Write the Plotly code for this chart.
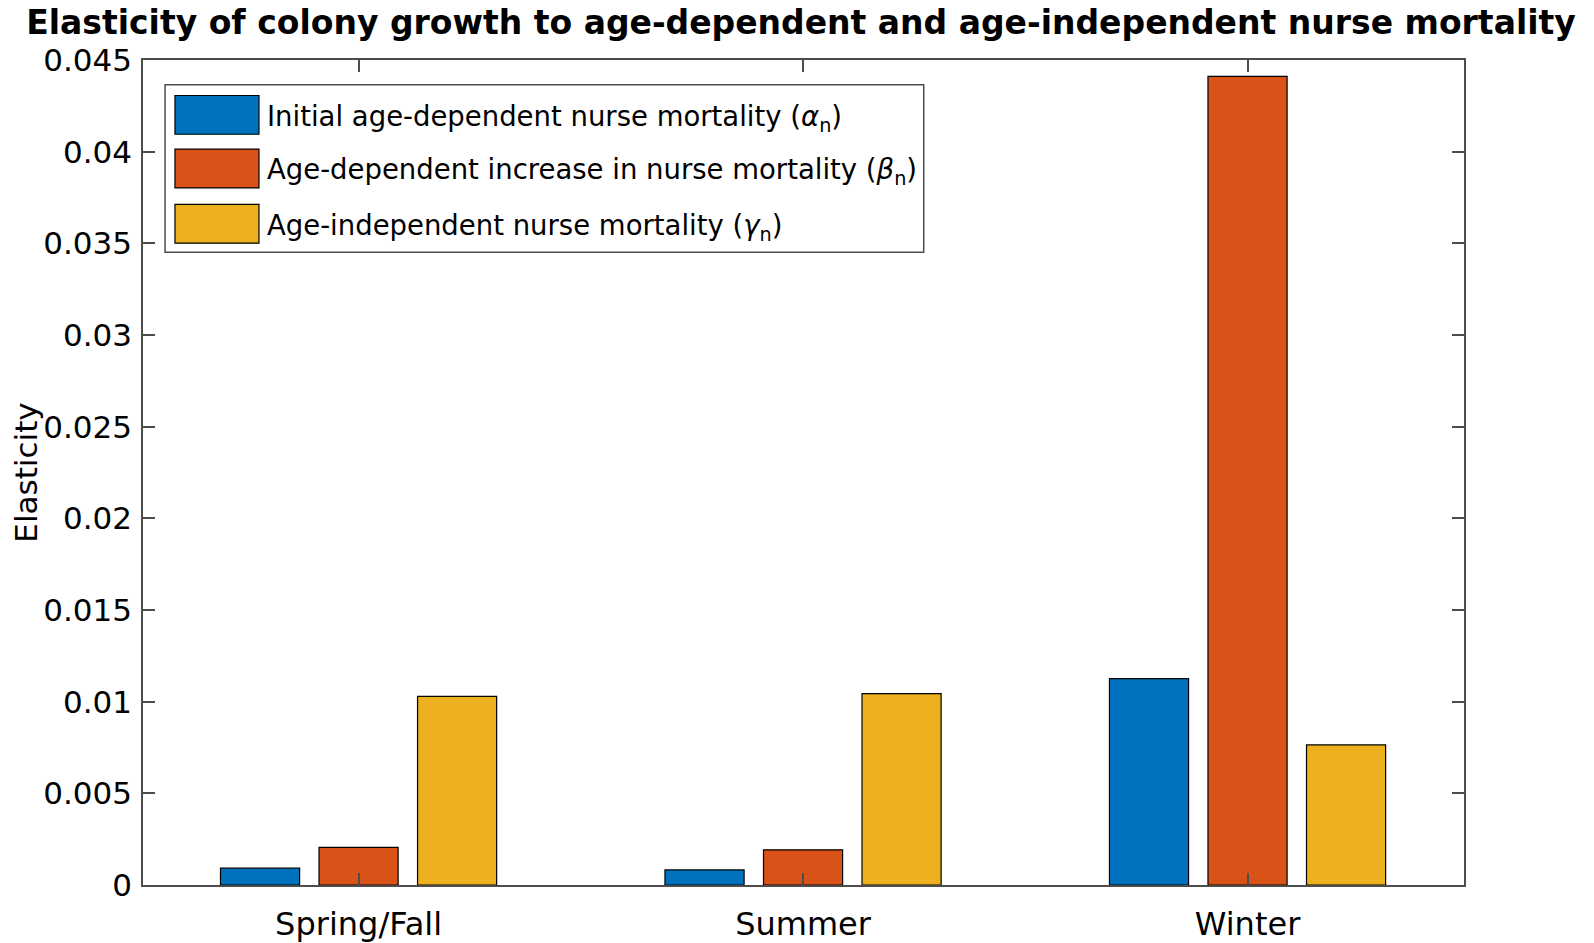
import plotly.graph_objects as go

categories = ["Spring/Fall", "Summer", "Winter"]
series_names = [
    "Initial age-dependent nurse mortality (<i>α</i><sub>n</sub>)",
    "Age-dependent increase in nurse mortality (<i>β</i><sub>n</sub>)",
    "Age-independent nurse mortality (<i>γ</i><sub>n</sub>)",
]
alpha_n = [0.00092, 0.00082, 0.01126]
beta_n = [0.00205, 0.00192, 0.04411]
gamma_n = [0.01029, 0.01044, 0.00764]
colors = ["#0072BD", "#D95319", "#EDB120"]
y_ticks = [0, 0.005, 0.01, 0.015, 0.02, 0.025, 0.03, 0.035, 0.04, 0.045]

FONT = "DejaVu Sans, Liberation Sans, Arial, sans-serif"
# page body has an 8px margin; compensate so the plot lands where the reference has it
W, H = 1586, 935
fig = go.Figure()
for name, vals, col in zip(series_names, [alpha_n, beta_n, gamma_n], colors):
    fig.add_trace(go.Bar(x=categories, y=vals, name=name,
                         marker=dict(color=col, line=dict(color="black", width=1.2)),
                         showlegend=False))

axcol = "#4d4d4d"
fig.update_layout(
    width=W, height=H,
    margin=dict(l=135, r=130, t=52, b=58),
    paper_bgcolor="white", plot_bgcolor="white",
    barmode="group", bargap=0.335, bargroupgap=0.197,
    font=dict(family=FONT, color="black", size=30),
    title=dict(text="<b>Elasticity of colony growth to age-dependent and age-independent nurse mortality</b>",
               x=0.5, xanchor="center", xref="container", y=1 - 14 / H, yanchor="middle", yref="container",
               font=dict(size=33, family=FONT)),
    xaxis=dict(range=[-0.485, 2.487], showline=True, linecolor=axcol, linewidth=1.5, mirror="ticks",
               ticks="inside", ticklen=12, tickcolor=axcol, tickwidth=1.5, showgrid=False,
               tickfont=dict(size=32), ticklabelstandoff=10, automargin=False),
    yaxis=dict(range=[0, 0.045], tickvals=y_ticks, ticktext=[("%g" % v) for v in y_ticks],
               showline=True, linecolor=axcol, linewidth=1.5, mirror="ticks",
               ticks="inside", ticklen=12, tickcolor=axcol, tickwidth=1.5, showgrid=False, zeroline=False,
               tickfont=dict(size=31), ticklabelstandoff=3, automargin=False,
               title=dict(text="Elasticity", font=dict(size=31), standoff=0)),
)

# custom legend box (large swatches as in the reference)
fig.add_shape(type="rect", xref="paper", yref="paper", x0=0.0167, x1=0.591, y0=0.767, y1=0.970,
              line=dict(color=axcol, width=1.5), fillcolor="white", layer="above")
rows = [(0.957, 0.910), (0.892, 0.845), (0.825, 0.778)]
for (ytop, ybot), name, col in zip(rows, series_names, colors):
    fig.add_shape(type="rect", xref="paper", yref="paper", x0=0.0242, x1=0.0878, y0=ybot, y1=ytop,
                  line=dict(color="black", width=1.2), fillcolor=col, layer="above")
    fig.add_annotation(xref="paper", yref="paper", x=0.092, y=(ytop + ybot) / 2 - 0.004, text=name,
                       showarrow=False, xanchor="left", yanchor="middle", font=dict(size=27.5, family=FONT))

fig.write_html("out.html")
